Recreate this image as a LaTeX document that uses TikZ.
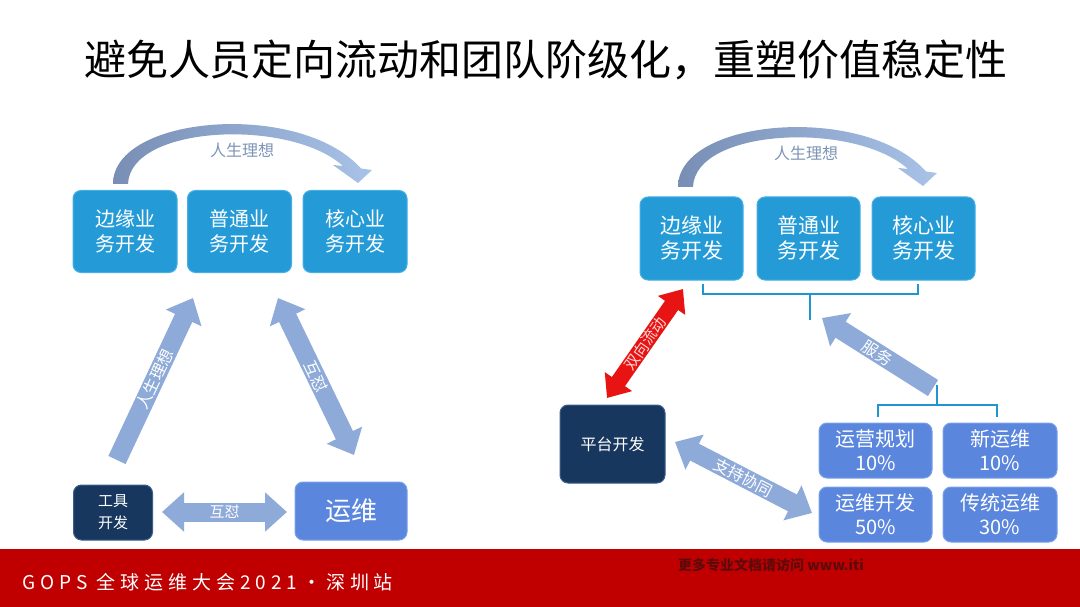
\documentclass[tikz,border=0pt]{standalone}
\usepackage{fontspec}
\newfontfamily\cjk{Noto Sans CJK SC}
\newfontfamily\cjkfoot[LetterSpace=26]{Noto Sans CJK SC}
\usetikzlibrary{arrows.meta}
\definecolor{boxblue}{RGB}{36,155,215}
\definecolor{boxblueedge}{RGB}{70,175,228}
\definecolor{opsblue}{RGB}{90,134,222}
\definecolor{opsedge}{RGB}{120,160,235}
\definecolor{navy}{RGB}{23,55,94}
\definecolor{navyedge}{RGB}{60,95,140}
\definecolor{arrowblue}{RGB}{142,170,216}
\definecolor{arcdark}{RGB}{120,142,180}
\definecolor{arclight}{RGB}{168,194,232}
\definecolor{arclabel}{RGB}{125,148,182}
\definecolor{redarrow}{RGB}{232,20,20}
\definecolor{footred}{RGB}{192,0,0}
\definecolor{footdark}{RGB}{95,10,10}
\definecolor{bracket}{RGB}{30,150,210}
\begin{document}
\begin{tikzpicture}[x=1pt,y=-1pt,
  every node/.style={font=\cjk},
  bigbox/.style={rounded corners=8pt, fill=boxblue, draw=boxblueedge, line width=1pt,
    minimum width=104pt, minimum height=82pt, text=white, align=center, inner sep=0pt,
    font=\cjk\fontsize{20}{25}\selectfont},
  rbox/.style={bigbox, minimum width=103pt, minimum height=83pt, font=\cjk\fontsize{21}{25}\selectfont},
  navybox/.style={rounded corners=8pt, fill=navy, draw=navyedge, line width=1pt,
    text=white, align=center, inner sep=0pt},
  opsbox/.style={rounded corners=8pt, fill=opsblue, draw=opsedge, line width=1pt,
    text=white, align=center, inner sep=0pt},
  smallbox/.style={opsbox, minimum width=113pt, minimum height=55pt, font=\cjk\fontsize{20}{24}\selectfont},
  fat/.style={draw=arrowblue, line width=19pt},
  fattip/.tip={Triangle[width=38pt,length=22pt]},
  redtip/.tip={Triangle[width=32pt,length=20pt]},
  onarrow/.style={sloped, text=white, font=\cjk\fontsize{15}{15}\selectfont, inner sep=0pt},
  arclbl/.style={text=arclabel, font=\cjk\fontsize{16}{16}\selectfont},
  brk/.style={draw=bracket, line width=2.2pt}
]
\useasboundingbox (0,0) rectangle (1080,607);
\fill[white] (0,0) rectangle (1080,607);

% title
\node[font=\cjk\fontsize{42}{42}\selectfont] (title) at (546,60) {避免人员定向流动和团队阶级化，重塑价值稳定性};

% footer
\fill[footred] (0,549) rectangle (1080,607);
\node[anchor=west, text=white, font=\cjkfoot\fontsize{19}{19}\selectfont, inner sep=0pt] (foot) at (22,582) {GOPS 全球运维大会2021·深圳站};
\node[anchor=west, text=footdark, font=\cjk\bfseries\fontsize{14}{14}\selectfont, inner sep=0pt] (foot2) at (678,565) {更多专业文档请访问 www.iti};

% ---------------- left diagram ----------------
\shade[left color=arcdark, right color=arclight]
  (113,184) .. controls (113,115) and (300,100) .. (361,168.5) -- (372,170) -- (358,183) -- (333,165) -- (343,166)
  .. controls (290,118) and (130,125) .. (128,184) -- cycle;
\node[arclbl] (lideal) at (242,150) {人生理想};

\node[bigbox] (la) at (125,231.5) {边缘业\\务开发};
\node[bigbox] (lb) at (239.5,231.5) {普通业\\务开发};
\node[bigbox] (lc) at (355,231.5) {核心业\\务开发};

\node[navybox, minimum width=79pt, minimum height=55pt, font=\cjk\fontsize{15}{22}\selectfont] (tool) at (113,512.5) {工具\\开发};
\node[opsbox, minimum width=112pt, minimum height=58pt, font=\cjk\fontsize{26}{26}\selectfont] (ops) at (351,511) {运维};

\coordinate (l1s) at (117,460); \coordinate (l1e) at (193,298);
\coordinate (l2s) at (278,298); \coordinate (l2e) at (354,455);
\coordinate (l3s) at (162,512); \coordinate (l3e) at (287,512);
\draw[fat, -fattip] (l1s) -- node[onarrow, font=\cjk\fontsize{16}{16}\selectfont] {人生理想} (l1e);
\draw[fat, fattip-fattip] (l2s) -- node[onarrow, font=\cjk\fontsize{16}{16}\selectfont] {互怼} (l2e);
\draw[fat, fattip-fattip] (l3s) -- node[onarrow] {互怼} (l3e);

% ---------------- right diagram ----------------
\begin{scope}[shift={(565,3)}]
\shade[left color=arcdark, right color=arclight]
  (113,184) .. controls (113,115) and (300,100) .. (361,168.5) -- (372,170) -- (358,183) -- (333,165) -- (343,166)
  .. controls (290,118) and (130,125) .. (128,184) -- cycle;
\end{scope}
\node[arclbl] (rideal) at (806,153) {人生理想};

\node[rbox] (ra) at (691.5,238.5) {边缘业\\务开发};
\node[rbox] (rb) at (808.5,238.5) {普通业\\务开发};
\node[rbox] (rc) at (923.5,238.5) {核心业\\务开发};

\draw[brk] (703,284) -- (703,294) -- (918,294) -- (918,284);
\draw[brk] (810,294) -- (810,320);

\node[navybox, minimum width=105pt, minimum height=78pt, font=\cjk\fontsize{16}{16}\selectfont] (plat) at (612.5,444) {平台开发};

\node[smallbox] (s1) at (875.5,450.5) {运营规划\\10\%};
\node[smallbox, minimum width=114pt] (s2) at (1000,450.5) {新运维\\10\%};
\node[smallbox] (s3) at (875.5,514.5) {运维开发\\50\%};
\node[smallbox, minimum width=114pt] (s4) at (1000,514.5) {传统运维\\30\%};

\draw[brk] (937,385) -- (937,405);
\draw[brk] (878,417) -- (878,405) -- (997,405) -- (997,417);

\coordinate (r1s) at (607,398); \coordinate (r1e) at (683,289);
\coordinate (r2s) at (933,388); \coordinate (r2e) at (822,318);
\coordinate (r3s) at (675,442); \coordinate (r3e) at (812,513);
\draw[draw=redarrow, line width=16pt, redtip-redtip] (r1s) -- node[onarrow, text=white!85!red] {双向流动} (r1e);
\draw[fat, -fattip] (r2s) -- node[onarrow, font=\cjk\fontsize{16}{16}\selectfont] {服务} (r2e);
\draw[fat, fattip-fattip] (r3s) -- node[onarrow, font=\cjk\fontsize{16}{16}\selectfont] {支持协同} (r3e);
\end{tikzpicture}
\end{document}
